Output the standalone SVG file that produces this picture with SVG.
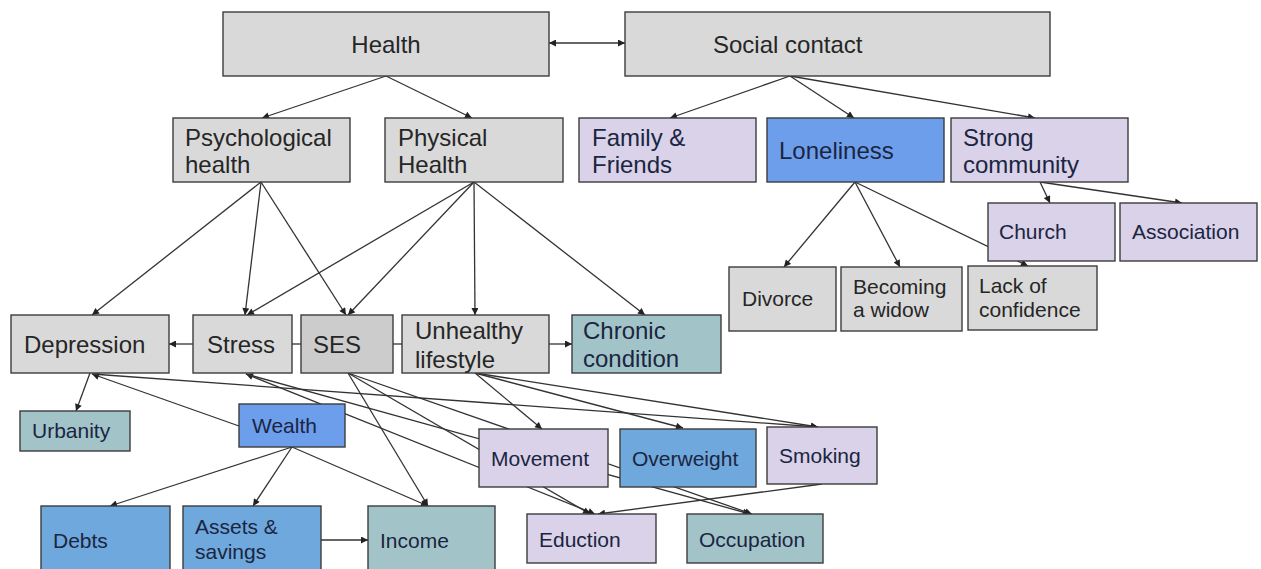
<svg xmlns="http://www.w3.org/2000/svg" width="1261" height="569" viewBox="0 0 1261 569">
<style>
.bg{fill:#ffffff}
rect.n{stroke:#3c3c3c;stroke-width:1.4}
.gray{fill:#d9d9d9}
.dgray{fill:#cccccc}
.lav{fill:#d9d2e9}
.blue{fill:#6d9eeb}
.sblue{fill:#6fa8dc}
.teal{fill:#a2c4c9}
text{font-family:"Liberation Sans",Arial,sans-serif;fill:#262626}
.L{font-size:24px}
.S{font-size:21px}
.dk{fill:#1b2541}
.c path{fill:none;stroke:#333333;stroke-width:1.3}
</style>
<defs>
<marker id="ah" viewBox="0 0 10 10" refX="10" refY="5" markerWidth="8" markerHeight="7" markerUnits="userSpaceOnUse" orient="auto-start-reverse">
<path d="M0,0 L10,5 L0,10 z" fill="#222"/>
</marker>
</defs>
<rect class="bg" x="0" y="0" width="1261" height="569"/>
<g id="connectors" class="c">
<path d="M549,43 L625,43" marker-start="url(#ah)" marker-end="url(#ah)"/>
<path d="M386,76 L262,118" marker-end="url(#ah)"/>
<path d="M386,76 L472,118" marker-end="url(#ah)"/>
<path d="M790,76 L670,118" marker-end="url(#ah)"/>
<path d="M790,76 L854,118" marker-end="url(#ah)"/>
<path d="M790,76 L1035,118" marker-end="url(#ah)"/>
<path d="M261,182 L92,315" marker-end="url(#ah)"/>
<path d="M261,182 L245,315" marker-end="url(#ah)"/>
<path d="M261,182 L346,315" marker-end="url(#ah)"/>
<path d="M474,182 L247,315" marker-end="url(#ah)"/>
<path d="M474,182 L348,315" marker-end="url(#ah)"/>
<path d="M474,182 L475,315" marker-end="url(#ah)"/>
<path d="M474,182 L645,315" marker-end="url(#ah)"/>
<path d="M855,182 L784,267" marker-end="url(#ah)"/>
<path d="M855,182 L900,267" marker-end="url(#ah)"/>
<path d="M855,182 L1028,266" marker-end="url(#ah)"/>
<path d="M1040,182 L1050,203" marker-end="url(#ah)"/>
<path d="M1040,182 L1182,203" marker-end="url(#ah)"/>
<path d="M193,344 L169,344" marker-end="url(#ah)"/>
<path d="M292,344 L301,344"/>
<path d="M393,344 L402,344"/>
<path d="M549,344 L572,344" marker-end="url(#ah)"/>
<path d="M90,373 L76,411" marker-end="url(#ah)"/>
<path d="M239,426 L92,374" marker-end="url(#ah)"/>
<path d="M92,374 L818,427" marker-end="url(#ah)"/>
<path d="M246,374 L595,514" marker-start="url(#ah)" marker-end="url(#ah)"/>
<path d="M246,374 L750,514" marker-end="url(#ah)"/>
<path d="M348,373 L752,514" marker-end="url(#ah)"/>
<path d="M348,373 L590,514" marker-end="url(#ah)"/>
<path d="M348,373 L428,506" marker-end="url(#ah)"/>
<path d="M475,373 L542,429" marker-end="url(#ah)"/>
<path d="M475,373 L683,428" marker-end="url(#ah)"/>
<path d="M475,373 L818,427" marker-end="url(#ah)"/>
<path d="M822,484 L598,514" marker-end="url(#ah)"/>
<path d="M292,447 L110,506" marker-end="url(#ah)"/>
<path d="M292,447 L253,506" marker-end="url(#ah)"/>
<path d="M292,447 L428,506" marker-end="url(#ah)"/>
<path d="M321,540 L368,540" marker-end="url(#ah)"/>
</g>
<g id="health"><rect class="n gray" x="223" y="12" width="326" height="64"/><text class="L" x="386" y="53" text-anchor="middle">Health</text></g>
<g id="social"><rect class="n gray" x="625" y="12" width="425" height="64"/><text class="L" x="713" y="53">Social contact</text></g>
<g id="psych"><rect class="n gray" x="173" y="118" width="177" height="64"/><text class="L" x="185" y="146">Psychological</text><text class="L" x="185" y="173">health</text></g>
<g id="physical"><rect class="n gray" x="385" y="118" width="178" height="64"/><text class="L" x="398" y="146">Physical</text><text class="L" x="398" y="173">Health</text></g>
<g id="family"><rect class="n lav" x="579" y="118" width="177" height="64"/><text class="L dk" x="592" y="146">Family &amp;</text><text class="L dk" x="592" y="173">Friends</text></g>
<g id="loneliness"><rect class="n blue" x="767" y="118" width="177" height="64"/><text class="L dk" x="779" y="159">Loneliness</text></g>
<g id="strong"><rect class="n lav" x="951" y="118" width="177" height="64"/><text class="L dk" x="963" y="146">Strong</text><text class="L dk" x="963" y="173">community</text></g>
<g id="church"><rect class="n lav" x="988" y="203" width="127" height="58"/><text class="S dk" x="999" y="239">Church</text></g>
<g id="association"><rect class="n lav" x="1120" y="203" width="137" height="58"/><text class="S dk" x="1132" y="239">Association</text></g>
<g id="divorce"><rect class="n gray" x="729" y="267" width="107" height="64"/><text class="S" x="742" y="306">Divorce</text></g>
<g id="widow"><rect class="n gray" x="841" y="267" width="121" height="64"/><text class="S" x="853" y="294">Becoming</text><text class="S" x="853" y="317">a widow</text></g>
<g id="lack"><rect class="n gray" x="968" y="266" width="129" height="64"/><text class="S" x="979" y="293">Lack of</text><text class="S" x="979" y="317">confidence</text></g>
<g id="depression"><rect class="n gray" x="11" y="315" width="158" height="58"/><text class="L" x="24" y="353">Depression</text></g>
<g id="stress"><rect class="n gray" x="193" y="315" width="99" height="58"/><text class="L" x="207" y="353">Stress</text></g>
<g id="ses"><rect class="n dgray" x="301" y="315" width="92" height="58"/><text class="L" x="313" y="353">SES</text></g>
<g id="unhealthy"><rect class="n gray" x="402" y="315" width="147" height="58"/><text class="L" x="415" y="339">Unhealthy</text><text class="L" x="415" y="368">lifestyle</text></g>
<g id="chronic"><rect class="n teal" x="572" y="315" width="149" height="58"/><text class="L dk" x="583" y="339">Chronic</text><text class="L dk" x="583" y="367">condition</text></g>
<g id="urbanity"><rect class="n teal" x="20" y="411" width="110" height="40"/><text class="S dk" x="32" y="438">Urbanity</text></g>
<g id="wealth"><rect class="n blue" x="239" y="404" width="106" height="43"/><text class="S dk" x="252" y="433">Wealth</text></g>
<g id="debts"><rect class="n sblue" x="41" y="506" width="129" height="70"/><text class="S dk" x="53" y="548">Debts</text></g>
<g id="assets"><rect class="n sblue" x="183" y="506" width="138" height="70"/><text class="S dk" x="195" y="534">Assets &amp;</text><text class="S dk" x="195" y="559">savings</text></g>
<g id="income"><rect class="n teal" x="368" y="506" width="127" height="70"/><text class="S dk" x="380" y="548">Income</text></g>
<g id="movement"><rect class="n lav" x="479" y="429" width="129" height="58"/><text class="S dk" x="491" y="466">Movement</text></g>
<g id="overweight"><rect class="n sblue" x="620" y="429" width="136" height="58"/><text class="S dk" x="632" y="466">Overweight</text></g>
<g id="smoking"><rect class="n lav" x="767" y="427" width="110" height="57"/><text class="S dk" x="779" y="463">Smoking</text></g>
<g id="eduction"><rect class="n lav" x="527" y="514" width="129" height="49"/><text class="S dk" x="539" y="547">Eduction</text></g>
<g id="occupation"><rect class="n teal" x="687" y="514" width="136" height="49"/><text class="S dk" x="699" y="547">Occupation</text></g>
</svg>
